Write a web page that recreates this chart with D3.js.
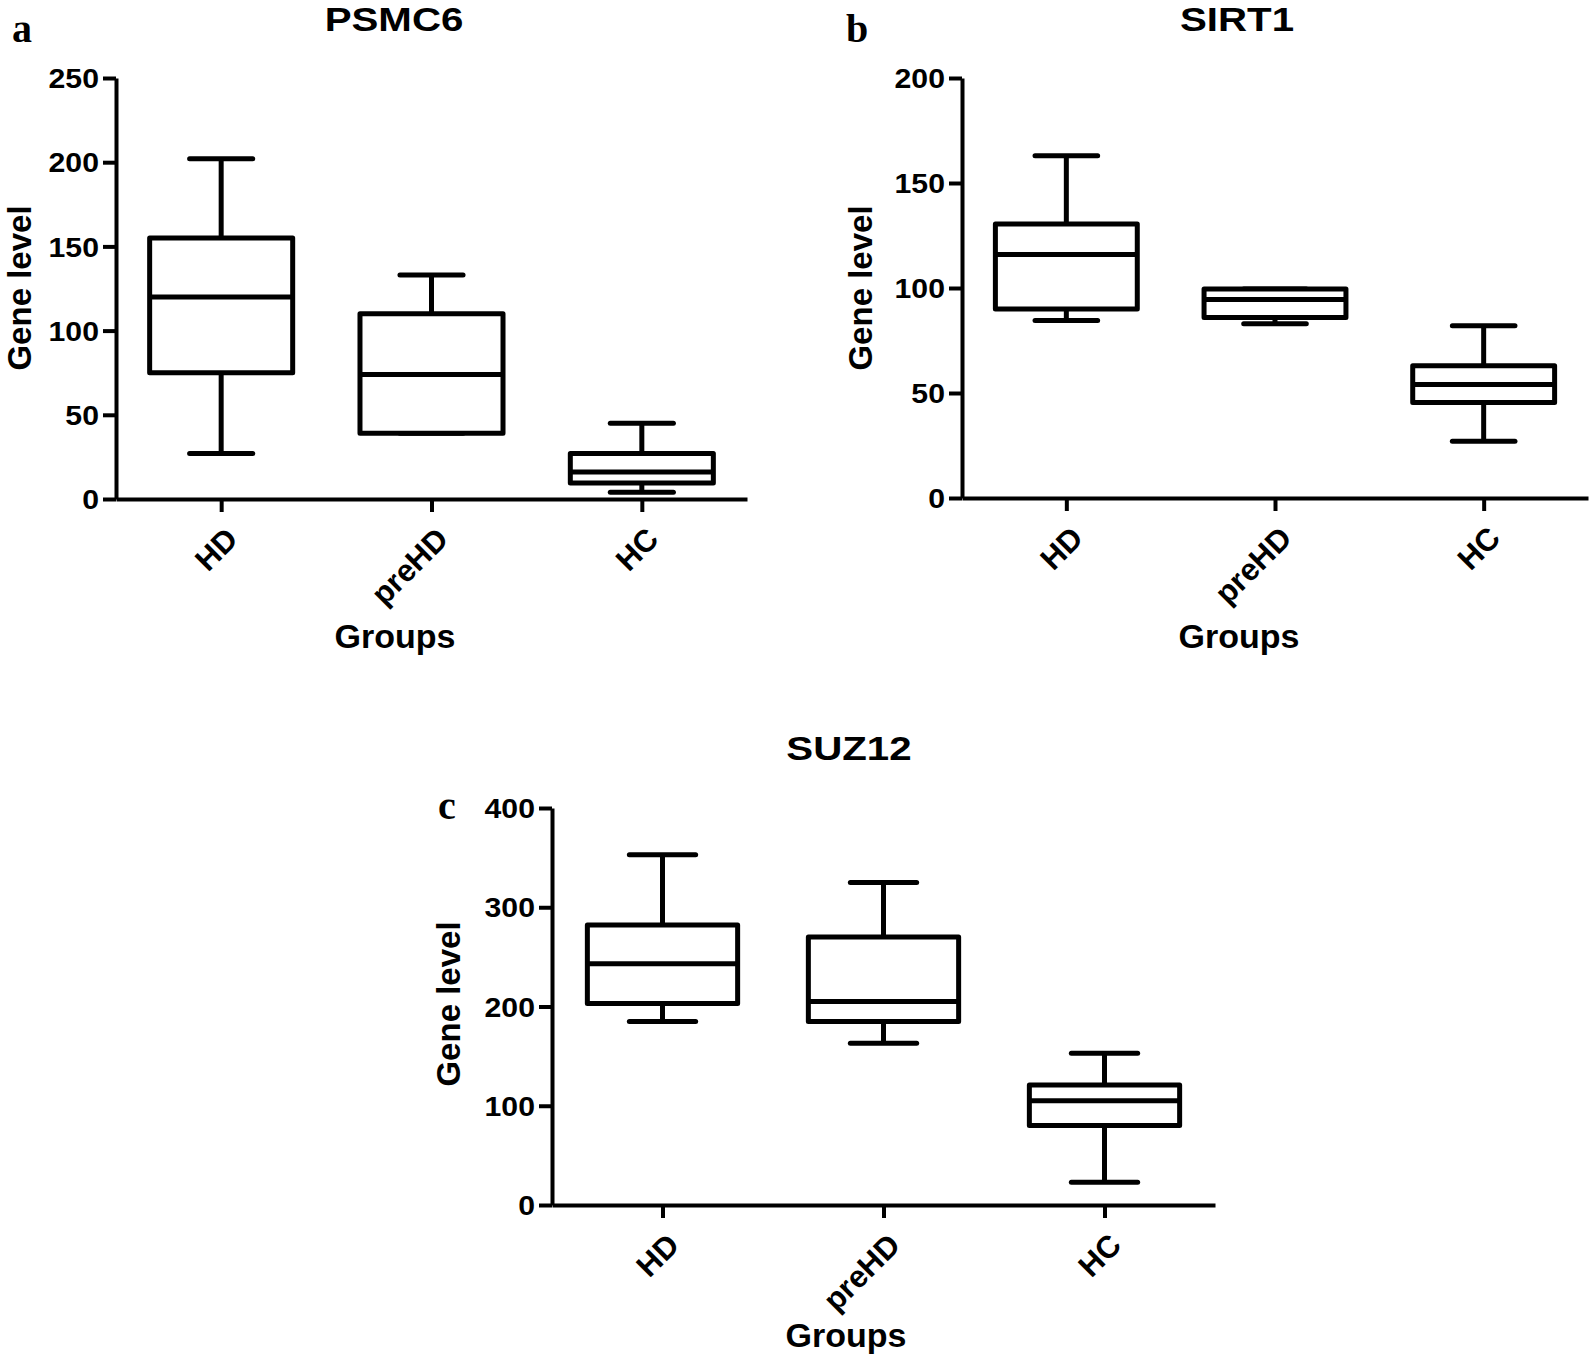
<!DOCTYPE html>
<html>
<head>
<meta charset="utf-8">
<script src="https://cdn.jsdelivr.net/npm/d3@7"></script>
<style>
  body { margin: 0; background: #fff; }
  svg { display: block; }
  text { font-family: "Liberation Sans", Arial, sans-serif; fill: #000; }
</style>
</head>
<body>
<div id="chart"></div>
<script>
// groups on x axis
const groups = ['HD', 'preHD', 'HC'];

// five-number summaries per group: [min, q1, median, q3, max]
const psmc6Stats = [[27, 75, 120, 155, 202], [39, 39, 74, 110, 133], [4, 9.5, 16, 27, 45]];
const sirt1Stats = [[84.5, 90, 116, 130.5, 163], [83, 86, 94.5, 99.5, 99.5], [27, 45.5, 54, 63, 82]];
const suz12Stats = [[185, 203, 243, 282, 353], [163, 185, 205, 270, 325], [23, 80, 105, 121, 153]];

const psmc6Ticks = [0, 50, 100, 150, 200, 250];
const sirt1Ticks = [0, 50, 100, 150, 200];
const suz12Ticks = [0, 100, 200, 300, 400];

const W = 1594, H = 1354;
const svg = d3.select('#chart').append('svg')
  .attr('width', W).attr('height', H);

const panels = [
  { letter: 'a', title: 'PSMC6', stats: psmc6Stats, ticks: psmc6Ticks,
    x0: 116, x1: 747, yTop: 78, yBot: 499,
    letterPos: [12, 42], titlePos: [394, 31], ylabPos: [31, 288], xlabPos: [395, 648] },
  { letter: 'b', title: 'SIRT1', stats: sirt1Stats, ticks: sirt1Ticks,
    x0: 962, x1: 1588, yTop: 78, yBot: 498,
    letterPos: [846, 42], titlePos: [1237, 31], ylabPos: [872, 288], xlabPos: [1239, 648] },
  { letter: 'c', title: 'SUZ12', stats: suz12Stats, ticks: suz12Ticks,
    x0: 552, x1: 1215, yTop: 808, yBot: 1205,
    letterPos: [438, 819], titlePos: [849, 760], ylabPos: [460, 1004], xlabPos: [846, 1347] }
];

panels.forEach(p => {
  const g = svg.append('g');

  const x = d3.scalePoint().domain(groups).range([p.x0, p.x1]).padding(0.5);
  const y = d3.scaleLinear()
    .domain([p.ticks[0], p.ticks[p.ticks.length - 1]])
    .range([p.yBot, p.yTop]);
  const step = x.step();
  const boxW = step * 0.68, capW = step * 0.30;

  // y axis
  const yAx = g.append('g')
    .attr('transform', `translate(${p.x0},0)`)
    .call(d3.axisLeft(y).tickValues(p.ticks).tickSize(13).tickSizeOuter(0));
  yAx.selectAll('path, line').attr('stroke', '#000').attr('stroke-width', 4);
  yAx.selectAll('.tick text')
    .style('font-size', '27px').style('font-weight', 'bold')
    .attr('x', 0).attr('dy', '0.36em')
    .attr('transform', 'translate(-17,0) scale(1.12,1)');

  // x axis
  const xAx = g.append('g')
    .attr('transform', `translate(0,${p.yBot})`)
    .call(d3.axisBottom(x).tickSize(13).tickSizeOuter(0));
  xAx.selectAll('path, line').attr('stroke', '#000').attr('stroke-width', 4);
  xAx.selectAll('text')
    .style('font-size', '31px').style('font-weight', 'bold')
    .attr('text-anchor', 'end')
    .attr('y', 0).attr('dy', 0)
    .attr('transform', 'translate(18,42) rotate(-45)');

  // boxes
  const box = g.selectAll('.box').data(p.stats).enter().append('g')
    .attr('class', 'box')
    .attr('transform', (d, i) => `translate(${x(groups[i])},0)`)
    .attr('stroke', '#000').attr('stroke-width', 5).attr('fill', 'none');

  // whiskers
  box.append('line').attr('x1', 0).attr('x2', 0)
    .attr('y1', d => y(d[3])).attr('y2', d => y(d[4]));
  box.append('line').attr('x1', 0).attr('x2', 0)
    .attr('y1', d => y(d[0])).attr('y2', d => y(d[1]));
  // caps
  box.append('line').attr('x1', -capW / 2).attr('x2', capW / 2)
    .attr('y1', d => y(d[4])).attr('y2', d => y(d[4])).attr('stroke-linecap', 'round');
  box.append('line').attr('x1', -capW / 2).attr('x2', capW / 2)
    .attr('y1', d => y(d[0])).attr('y2', d => y(d[0])).attr('stroke-linecap', 'round');
  // box
  box.append('rect')
    .attr('x', -boxW / 2).attr('width', boxW)
    .attr('y', d => y(d[3])).attr('height', d => y(d[1]) - y(d[3]))
    .attr('fill', '#fff').attr('stroke-linejoin', 'round');
  // median
  box.append('line').attr('x1', -boxW / 2).attr('x2', boxW / 2)
    .attr('y1', d => y(d[2])).attr('y2', d => y(d[2]));

  // title
  g.append('text')
    .attr('transform', `translate(${p.titlePos[0]},${p.titlePos[1]}) scale(1.22,1)`)
    .attr('text-anchor', 'middle')
    .style('font-size', '33px').style('font-weight', 'bold')
    .text(p.title);

  // panel letter
  g.append('text').attr('x', p.letterPos[0]).attr('y', p.letterPos[1])
    .style('font-family', '"Liberation Serif", "Times New Roman", serif')
    .style('font-size', '40px').style('font-weight', 'bold')
    .text(p.letter);

  // axis labels
  g.append('text')
    .attr('transform', `translate(${p.ylabPos[0]},${p.ylabPos[1]}) rotate(-90)`)
    .attr('text-anchor', 'middle')
    .style('font-size', '33px').style('font-weight', 'bold')
    .text('Gene level');
  g.append('text').attr('x', p.xlabPos[0]).attr('y', p.xlabPos[1])
    .attr('text-anchor', 'middle')
    .style('font-size', '34px').style('font-weight', 'bold')
    .text('Groups');
});
</script>
</body>
</html>
